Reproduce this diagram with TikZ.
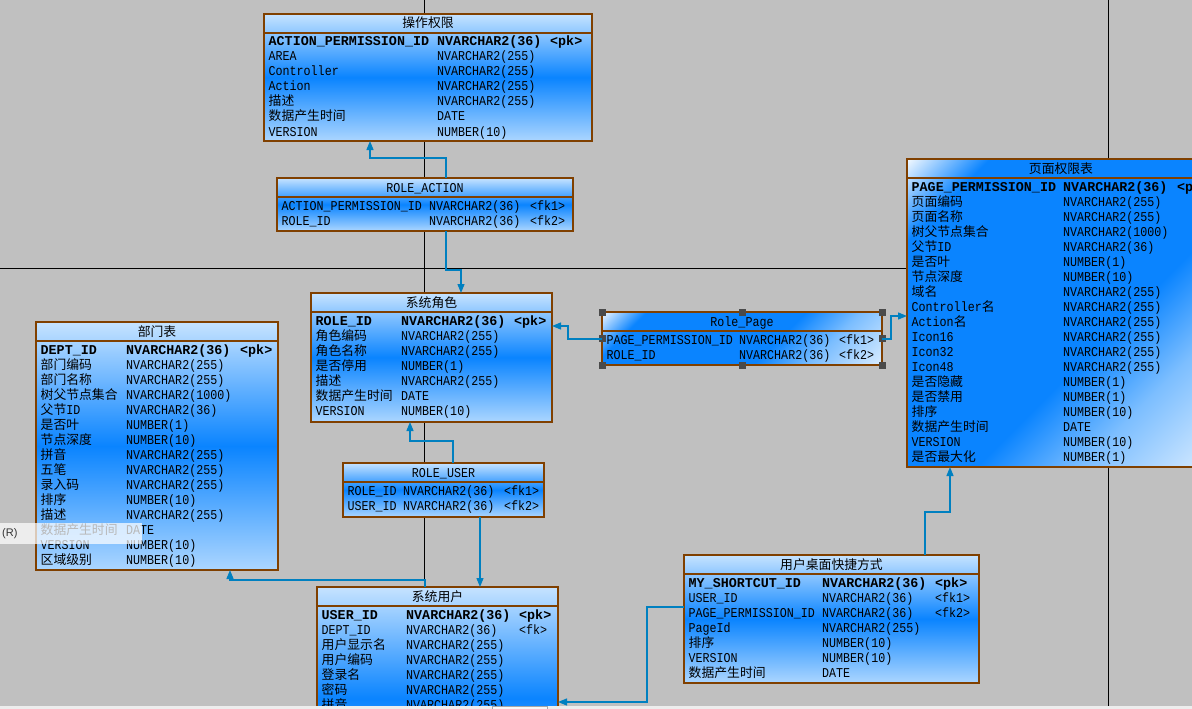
\documentclass[tikz,border=0pt]{standalone}
\usepackage{fontspec}
\usepackage{graphicx}
\usetikzlibrary{arrows.meta}
\setmainfont{Liberation Mono}[FakeStretch=0.865]
\newfontfamily\pkfont{Liberation Mono}[FakeStretch=0.99]
\newfontfamily\zhfont{Noto Sans CJK SC}[Scale=0.95]
\newfontfamily\uisans{Liberation Sans}
\newcommand\zh[1]{{\zhfont #1}}
\newcommand\pkb{\pkfont\bfseries}
\newcommand\nrm{\relax}
\definecolor{bgc}{HTML}{C0C0C0}
\definecolor{erbrown}{HTML}{804000}
\definecolor{lnk}{HTML}{0080C0}
\definecolor{tTop}{HTML}{C6E3FF}
\definecolor{tMid}{HTML}{0A84FF}
\definecolor{tBot}{HTML}{ACD6FF}
\definecolor{tLite}{HTML}{7CBEFF}
\definecolor{dBot}{HTML}{DDEEFF}
\definecolor{hdl}{HTML}{4A4A4A}
\pgfdeclareverticalshading{diagshade}{100bp}{color(0bp)=(dBot); color(14bp)=(dBot); color(30bp)=(tLite); color(42bp)=(tMid); color(76bp)=(tMid); color(86bp)=(white); color(100bp)=(white)}
\tikzset{
 tbl/.style={draw=erbrown, line width=1.1pt, inner sep=0pt, outer sep=0pt, rectangle},
 vgrad/.style={top color=tTop, bottom color=tBot, middle color=tMid},
 dgrad/.style={shade, shading=diagshade, shading angle=45},
 hdr/.style={inner sep=0pt, anchor=base, font=\fontsize{13.5}{15}\selectfont},
 cell/.style={inner sep=0pt, anchor=base west, font=\fontsize{13.5}{15}\selectfont},
 sepline/.style={draw=erbrown, line width=1.1pt},
 conn/.style={draw=lnk, line width=1.3pt, -{Triangle[width=7pt,length=9pt]}},
 pageline/.style={draw=black, line width=1pt},
}
% #1 name, #2 left, #3 top, #4 right, #5 bottom, #6 fill style, #7 header, #8 col2 x, #9 col3 x; then {rows}
\newcommand\ertable[9]{%
  \node[tbl,#6,minimum width={#4-#2},minimum height={#5-#3}] (#1) at ({(#2+#4)/2},{(#3+#5)/2}) {};
  \node[hdr] (#1-h) at ({(#2+#4)/2},{#3+14}) {#7};
  \draw[sepline] ([yshift=-19pt]#1.north west) -- ([yshift=-19pt]#1.north east);
  \def\erL{#2}\def\erT{#3}\def\erX{#8}\def\erY{#9}\def\erN{#1}%
  \ertablerows}
\newcommand\ertablerows[1]{%
  \foreach \fo/\na/\ty/\ke [count=\i] in {#1}{%
    \node[cell] (\erN-\i-a) at ({\erL+4.5},{\erT+32+15*(\i-1)}) {\fo\na};
    \node[cell] (\erN-\i-b) at ({\erX},{\erT+32+15*(\i-1)}) {\fo\ty};
    \node[cell] (\erN-\i-c) at ({\erY},{\erT+32+15*(\i-1)}) {\fo\ke};
  }}
\begin{document}
\begin{tikzpicture}[x=1pt,y=-1pt]
\useasboundingbox (0,0) rectangle (1192,709);
\clip (0,0) rectangle (1192,709);
\fill[bgc] (0,0) rectangle (1192,709);
% page boundaries
\draw[pageline] (424,0) -- (424,709);
\draw[pageline] (0,268) -- (1192,268);
\draw[pageline] (1108,0) -- (1108,709);

\ertable{oa}{264}{14}{592}{141}{vgrad}{\zh{操作权限}}{437}{550}{
 {\pkb}/{ACTION\_PERMISSION\_ID}/{NVARCHAR2(36)}/{<pk>},
 {\nrm}/{AREA}/{NVARCHAR2(255)}/{},
 {\nrm}/{Controller}/{NVARCHAR2(255)}/{},
 {\nrm}/{Action}/{NVARCHAR2(255)}/{},
 {\nrm}/{\zh{描述}}/{NVARCHAR2(255)}/{},
 {\nrm}/{\zh{数据产生时间}}/{DATE}/{},
 {\nrm}/{VERSION}/{NUMBER(10)}/{}}

\ertable{ra}{277}{178}{573}{231}{vgrad}{ROLE\_ACTION}{429}{530}{
 {\nrm}/{ACTION\_PERMISSION\_ID}/{NVARCHAR2(36)}/{<fk1>},
 {\nrm}/{ROLE\_ID}/{NVARCHAR2(36)}/{<fk2>}}

\ertable{role}{311}{293}{552}{422}{vgrad}{\zh{系统角色}}{401}{514}{
 {\pkb}/{ROLE\_ID}/{NVARCHAR2(36)}/{<pk>},
 {\nrm}/{\zh{角色编码}}/{NVARCHAR2(255)}/{},
 {\nrm}/{\zh{角色名称}}/{NVARCHAR2(255)}/{},
 {\nrm}/{\zh{是否停用}}/{NUMBER(1)}/{},
 {\nrm}/{\zh{描述}}/{NVARCHAR2(255)}/{},
 {\nrm}/{\zh{数据产生时间}}/{DATE}/{},
 {\nrm}/{VERSION}/{NUMBER(10)}/{}}

\ertable{rp}{602}{312}{882}{365}{dgrad}{Role\_Page}{739}{839}{
 {\nrm}/{PAGE\_PERMISSION\_ID}/{NVARCHAR2(36)}/{<fk1>},
 {\nrm}/{ROLE\_ID}/{NVARCHAR2(36)}/{<fk2>}}

\ertable{pp}{907}{159}{1215}{467}{dgrad}{\zh{页面权限表}}{1063}{1177}{
 {\pkb}/{PAGE\_PERMISSION\_ID}/{NVARCHAR2(36)}/{<pk>},
 {\nrm}/{\zh{页面编码}}/{NVARCHAR2(255)}/{},
 {\nrm}/{\zh{页面名称}}/{NVARCHAR2(255)}/{},
 {\nrm}/{\zh{树父节点集合}}/{NVARCHAR2(1000)}/{},
 {\nrm}/{\zh{父节}ID}/{NVARCHAR2(36)}/{},
 {\nrm}/{\zh{是否叶}}/{NUMBER(1)}/{},
 {\nrm}/{\zh{节点深度}}/{NUMBER(10)}/{},
 {\nrm}/{\zh{域名}}/{NVARCHAR2(255)}/{},
 {\nrm}/{Controller\zh{名}}/{NVARCHAR2(255)}/{},
 {\nrm}/{Action\zh{名}}/{NVARCHAR2(255)}/{},
 {\nrm}/{Icon16}/{NVARCHAR2(255)}/{},
 {\nrm}/{Icon32}/{NVARCHAR2(255)}/{},
 {\nrm}/{Icon48}/{NVARCHAR2(255)}/{},
 {\nrm}/{\zh{是否隐藏}}/{NUMBER(1)}/{},
 {\nrm}/{\zh{是否禁用}}/{NUMBER(1)}/{},
 {\nrm}/{\zh{排序}}/{NUMBER(10)}/{},
 {\nrm}/{\zh{数据产生时间}}/{DATE}/{},
 {\nrm}/{VERSION}/{NUMBER(10)}/{},
 {\nrm}/{\zh{是否最大化}}/{NUMBER(1)}/{}}

\ertable{dept}{36}{322}{278}{570}{vgrad}{\zh{部门表}}{126}{240}{
 {\pkb}/{DEPT\_ID}/{NVARCHAR2(36)}/{<pk>},
 {\nrm}/{\zh{部门编码}}/{NVARCHAR2(255)}/{},
 {\nrm}/{\zh{部门名称}}/{NVARCHAR2(255)}/{},
 {\nrm}/{\zh{树父节点集合}}/{NVARCHAR2(1000)}/{},
 {\nrm}/{\zh{父节}ID}/{NVARCHAR2(36)}/{},
 {\nrm}/{\zh{是否叶}}/{NUMBER(1)}/{},
 {\nrm}/{\zh{节点深度}}/{NUMBER(10)}/{},
 {\nrm}/{\zh{拼音}}/{NVARCHAR2(255)}/{},
 {\nrm}/{\zh{五笔}}/{NVARCHAR2(255)}/{},
 {\nrm}/{\zh{录入码}}/{NVARCHAR2(255)}/{},
 {\nrm}/{\zh{排序}}/{NUMBER(10)}/{},
 {\nrm}/{\zh{描述}}/{NVARCHAR2(255)}/{},
 {\nrm}/{\zh{数据产生时间}}/{DATE}/{},
 {\nrm}/{VERSION}/{NUMBER(10)}/{},
 {\nrm}/{\zh{区域级别}}/{NUMBER(10)}/{}}

\ertable{ru}{343}{463}{544}{517}{vgrad}{ROLE\_USER}{403}{504}{
 {\nrm}/{ROLE\_ID}/{NVARCHAR2(36)}/{<fk1>},
 {\nrm}/{USER\_ID}/{NVARCHAR2(36)}/{<fk2>}}

\ertable{su}{317}{587}{558}{810}{vgrad}{\zh{系统用户}}{406}{519}{
 {\pkb}/{USER\_ID}/{NVARCHAR2(36)}/{<pk>},
 {\nrm}/{DEPT\_ID}/{NVARCHAR2(36)}/{<fk>},
 {\nrm}/{\zh{用户显示名}}/{NVARCHAR2(255)}/{},
 {\nrm}/{\zh{用户编码}}/{NVARCHAR2(255)}/{},
 {\nrm}/{\zh{登录名}}/{NVARCHAR2(255)}/{},
 {\nrm}/{\zh{密码}}/{NVARCHAR2(255)}/{},
 {\nrm}/{\zh{拼音}}/{NVARCHAR2(255)}/{}}

\ertable{ms}{684}{555}{979}{683}{vgrad}{\zh{用户桌面快捷方式}}{822}{935}{
 {\pkb}/{MY\_SHORTCUT\_ID}/{NVARCHAR2(36)}/{<pk>},
 {\nrm}/{USER\_ID}/{NVARCHAR2(36)}/{<fk1>},
 {\nrm}/{PAGE\_PERMISSION\_ID}/{NVARCHAR2(36)}/{<fk2>},
 {\nrm}/{PageId}/{NVARCHAR2(255)}/{},
 {\nrm}/{\zh{排序}}/{NUMBER(10)}/{},
 {\nrm}/{VERSION}/{NUMBER(10)}/{},
 {\nrm}/{\zh{数据产生时间}}/{DATE}/{}}

% selection handles on Role_Page
\foreach \p in {north west, north, north east, west, east, south west, south, south east}
  \fill[hdl] ([shift={(-3.5pt,-3.5pt)}]rp.\p) rectangle ++(7pt,7pt);

% references
\draw[conn] (ra.north -| 446,0) |- (370,158) -- (oa.south -| 370,0);
\draw[conn] (ra.south -| 446,0) |- (461,270) -- (role.north -| 461,0);
\draw[conn] (rp.west |- 0,339) -| (568,326) -- (role.east |- 0,326);
\draw[conn] (rp.east |- 0,339) -| (891,316) -- (pp.west |- 0,316);
\draw[conn] (ru.north -| 453,0) |- (410,441) -- (role.south -| 410,0);
\draw[conn] (ru.south -| 480,0) -- (su.north -| 480,0);
\draw[conn] (su.north -| 425,0) |- (230,580) -- (dept.south -| 230,0);
\draw[conn] (ms.west |- 0,607) -| (647,702) -- (su.east |- 0,702);
\draw[conn] (ms.north -| 925,0) |- (950,512) -- (pp.south -| 950,0);

% tooltip overlay
\fill[white, opacity=0.72] (0,523) rectangle (142,544);
\node[inner sep=0pt, anchor=west, text=black!80, font=\uisans\fontsize{11}{13}\selectfont] (tip) at (2,533.5) {(R)};

% bottom strip
\fill[white!93!black] (0,706) rectangle (1192,709);
\draw[gray!70, fill=white!97!black] (492,706.5) rectangle (547,712);
\end{tikzpicture}
\end{document}
